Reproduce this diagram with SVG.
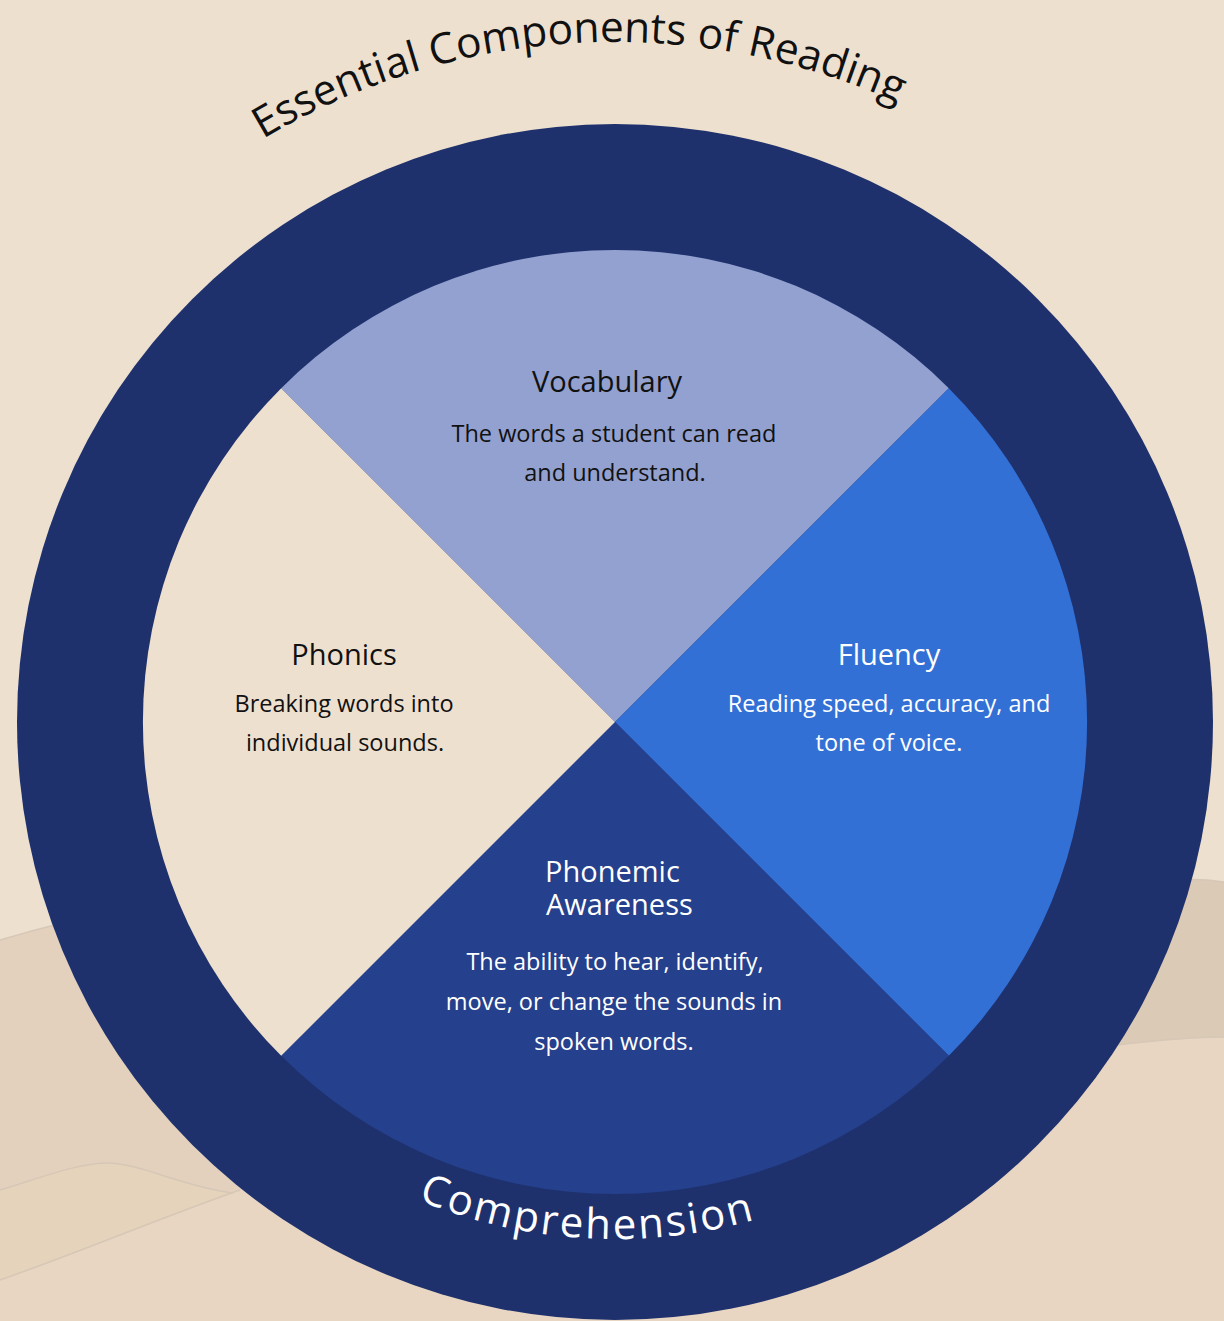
<svg xmlns="http://www.w3.org/2000/svg" width="1224" height="1321" viewBox="0 0 1224 1321">
  <style>
    text { font-family: "Open Sans", "Noto Sans", "Liberation Sans", sans-serif; font-weight: 400; }
    .head { font-size: 29px; }
    .body { font-size: 23.5px; }
    .dark { fill: #111111; }
    .light { fill: #ffffff; }
    .hillline { fill: none; stroke: #d6c7b6; stroke-width: 1.5; }
  </style>
  <defs>
    <path id="titleArc" d="M -73,730 A 688,688 0 0 1 1303,730"/>
    <path id="compArc" d="M 98,722 A 517,517 0 0 0 1132,722"/>
  </defs>

  <g id="background">
    <rect x="0" y="0" width="1224" height="1321" fill="#eee0cf"/>
    <path d="M0,940 C40,928 80,918 130,908 L615,880 L615,1321 L0,1321 Z" fill="#e3d1be"/>
    <path d="M1224,882 C1210,880 1195,879 1180,880 L615,880 L615,1321 L1224,1321 Z" fill="#dacab6"/>
    <path d="M0,1190 C40,1178 78,1163 107,1163 C140,1163 180,1186 233,1193 L600,1150 L600,1321 L0,1321 Z" fill="#e6d3bb"/>
    <path d="M0,1280 C80,1252 160,1218 240,1190 L615,1100 L1117,1045 C1160,1040 1200,1037 1224,1037 L1224,1321 L0,1321 Z" fill="#e8d6c2"/>
    <path class="hillline" d="M0,940 C40,928 80,918 130,908"/>
    <path class="hillline" d="M0,1190 C40,1178 78,1163 107,1163 C140,1163 180,1186 233,1193"/>
    <path class="hillline" d="M0,1280 C80,1252 160,1218 240,1190"/>
    <path class="hillline" d="M1224,1037 C1200,1037 1160,1040 1117,1045"/>
    <path class="hillline" d="M1224,882 C1210,880 1195,879 1180,880"/>
  </g>

  <g id="title">
    <text class="dark" font-size="42.5"><textPath href="#titleArc" startOffset="48.2%" text-anchor="middle">Essential Components of Reading</textPath></text>
  </g>

  <g id="comprehension-ring">
    <circle cx="615" cy="722" r="598" fill="#1e316d"/>
  </g>

  <g id="vocabulary">
    <path d="M615,722 L281.2,388.2 A472,472 0 0 1 948.8,388.2 Z" fill="#93a1d0"/>
    <text class="head dark" x="607" y="392" text-anchor="middle">Vocabulary</text>
    <text class="body dark" text-anchor="middle"><tspan x="614" y="442">The words a student can read</tspan><tspan x="615" y="481">and understand.</tspan></text>
  </g>

  <g id="fluency">
    <path d="M615,722 L948.8,388.2 A472,472 0 0 1 948.8,1055.8 Z" fill="#3270d6"/>
    <text class="head light" x="889" y="665" text-anchor="middle">Fluency</text>
    <text class="body light" text-anchor="middle"><tspan x="889" y="712">Reading speed, accuracy, and</tspan><tspan x="889" y="751">tone of voice.</tspan></text>
  </g>

  <g id="phonemic-awareness">
    <path d="M615,722 L948.8,1055.8 A472,472 0 0 1 281.2,1055.8 Z" fill="#25408c"/>
    <text class="head light"><tspan x="545" y="882">Phonemic</tspan><tspan x="546" y="915">Awareness</tspan></text>
    <text class="body light" text-anchor="middle"><tspan x="615" y="970">The ability to hear, identify,</tspan><tspan x="614" y="1010">move, or change the sounds in</tspan><tspan x="614" y="1050">spoken words.</tspan></text>
  </g>

  <g id="phonics">
    <path d="M615,722 L281.2,1055.8 A472,472 0 0 1 281.2,388.2 Z" fill="#eee0cf"/>
    <text class="head dark" x="344" y="665" text-anchor="middle">Phonics</text>
    <text class="body dark" text-anchor="middle"><tspan x="344" y="712">Breaking words into</tspan><tspan x="345" y="751">individual sounds.</tspan></text>
  </g>

  <g id="comprehension-label">
    <text class="light" font-size="42" letter-spacing="2.5"><textPath href="#compArc" startOffset="48.2%" text-anchor="middle">Comprehension</textPath></text>
  </g>
</svg>
